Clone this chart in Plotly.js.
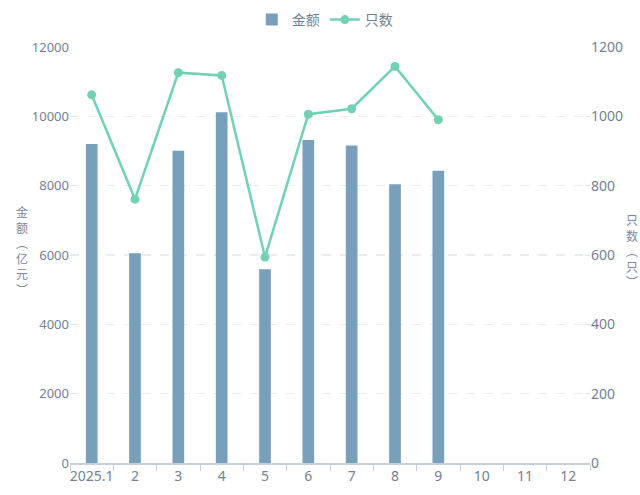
<!DOCTYPE html>
<html>
<head>
<meta charset="utf-8">
<script src="https://cdn.plot.ly/plotly-3.0.1.min.js"></script>
<style>html,body{margin:0;padding:0;background:#fff;}#chart{width:640px;height:495px;}</style>
</head>
<body>
<div id="chart"></div>
<script>
const months = ['2025.1','2','3','4','5','6','7','8','9','10','11','12'];
const amount = [9200, 6050, 9010, 10120, 5590, 9320, 9160, 8040, 8430, null, null, null];
const count = [1062, 761, 1126, 1118, 594, 1006, 1022, 1144, 990, null, null, null];
const leftTicks = [0, 2000, 4000, 6000, 8000, 10000, 12000];
const rightTicks = [0, 200, 400, 600, 800, 1000, 1200];

const textColor = '#728294';
const traces = [
  {
    type: 'bar', name: '金额', x: months, y: amount,
    marker: {color: '#79a0bb'}, width: 0.27, yaxis: 'y',
    hoverinfo: 'x+y'
  },
  {
    type: 'scatter', mode: 'lines+markers', name: '只数', x: months, y: count,
    yaxis: 'y2', line: {color: '#72d1b5', width: 2.5},
    marker: {color: '#72d1b5', size: 9}, connectgaps: false
  }
];
const layout = {
  width: 640, height: 495,
  margin: {l: 70, r: 50, t: 47, b: 32, autoexpand: false},
  paper_bgcolor: '#fff', plot_bgcolor: '#fff',
  font: {family: 'Noto Sans, Noto Sans CJK SC, sans-serif', color: textColor},
  showlegend: true,
  legend: {orientation: 'h', x: 0.49, xanchor: 'center', y: 1.065, yanchor: 'middle',
    font: {size: 14, color: textColor, family: 'Noto Sans CJK SC, sans-serif'}, itemwidth: 30},
  xaxis: {
    type: 'category', tickvals: months, ticktext: months,
    range: [-0.5, 11.5], tickangle: 0,
    tickson: 'boundaries', ticks: 'outside', ticklen: 6, tickcolor: '#c5d0da',
    showline: true, linecolor: '#c5d0da', linewidth: 1.5,
    showgrid: false, zeroline: false,
    tickfont: {size: 14, color: textColor, family: 'Noto Sans'}
  },
  yaxis: {
    range: [0, 12000], tickvals: leftTicks, ticktext: leftTicks.map(String),
    ticks: 'inside', ticklen: 5, tickcolor: '#dde4ea',
    showgrid: true, gridcolor: '#e8edf2', griddash: 'dash', gridwidth: 1.5,
    zeroline: false, showline: false,
    tickfont: {size: 13, color: textColor, family: 'Noto Sans'}
  },
  yaxis2: {
    range: [0, 1200], tickvals: rightTicks, ticktext: rightTicks.map(String),
    overlaying: 'y', side: 'right',
    ticks: 'inside', ticklen: 5, tickcolor: '#dde4ea',
    showgrid: false, zeroline: false, showline: false,
    tickfont: {size: 14, color: textColor, family: 'Noto Sans'}
  },
  annotations: [
    {xref: 'paper', yref: 'paper', x: -0.092, y: 0.51, xanchor: 'center', yanchor: 'middle',
     text: '金<br>额<br>︵<br>亿<br>元<br>︶', showarrow: false,
     font: {size: 12, color: '#7a8a9a', family: 'Noto Sans CJK SC'}},
    {xref: 'paper', yref: 'paper', x: 1.081, y: 0.51, xanchor: 'center', yanchor: 'middle',
     text: '只<br>数<br>︵<br>只<br>︶', showarrow: false,
     font: {size: 12, color: '#7a8a9a', family: 'Noto Sans CJK SC'}}
  ]
};
Plotly.newPlot('chart', traces, layout, {displayModeBar: false, staticPlot: true});
</script>
</body>
</html>
